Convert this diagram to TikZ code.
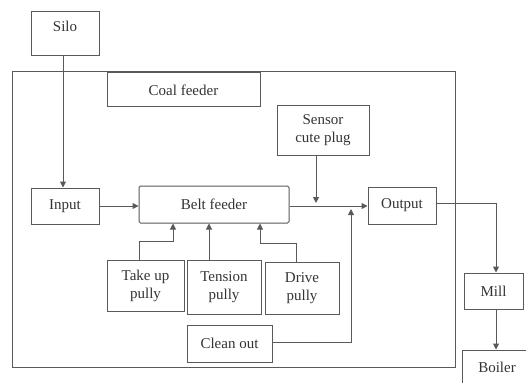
\documentclass[tikz,border=0pt]{standalone}
\usepackage{fontspec}
\setmainfont{Liberation Serif}
\usetikzlibrary{arrows.meta}
\begin{document}
\begin{tikzpicture}[x=1pt,y=-1pt,
  box/.style={draw=black!65,line width=1pt,inner sep=0pt,align=center,
    text=black!80,font=\fontsize{15}{18}\selectfont},
  arr/.style={draw=black!65,line width=1pt,-{Triangle[length=6pt,width=6pt]}},
  ln/.style={draw=black!65,line width=1pt}]
\useasboundingbox (0,0) rectangle (526,382);
\begin{scope}
\clip (0,0) rectangle (526,382);
\node[box,minimum width=443,minimum height=295] (feeder) at (233.5,219.5) {};
\node[box,minimum width=68,minimum height=44] (silo) at (65,34) {\raisebox{2pt}[0pt][0pt]{Silo}};
\node[box,minimum width=153,minimum height=34] (coal) at (183.5,90) {Coal feeder};
\node[box,minimum width=92,minimum height=49] (sensor) at (323,130.5) {Sensor\\cute plug};
\node[box,minimum width=68,minimum height=36] (input) at (65,206) {Input};
\node[box,rounded corners=1.5pt,minimum width=150,minimum height=37] (belt) at (214,204.5) {Belt feeder};
\node[box,minimum width=68,minimum height=37] (output) at (402,205.5) {Output};
\node[box,minimum width=77,minimum height=51] (takeup) at (145.5,285.5) {Take up\\pully};
\node[box,minimum width=74,minimum height=54] (tension) at (224,287) {Tension\\pully};
\node[box,minimum width=74,minimum height=52] (drive) at (302,288) {Drive\\pully};
\node[box,minimum width=85,minimum height=37] (clean) at (229.5,343.5) {Clean out};
\node[box,minimum width=59,minimum height=36] (mill) at (493.5,291) {Mill};
\node[box,minimum width=70,minimum height=50] (boiler) at (497,375) {\raisebox{3pt}[0pt][0pt]{Boiler}};
\coordinate (sensortip) at (316,203);
\coordinate (cleantip) at (351,209);
\coordinate (mainline) at (0,206);
\end{scope}
% connectors
\draw[arr] ([xshift=-2pt]silo.south) -- ([xshift=-2pt]input.north);
\draw[arr] (input.east) -- (belt.west |- input.east);
\draw[arr] (belt.east |- mainline) -- (output.west |- mainline);
\draw[arr] ([xshift=-7pt]sensor.south) -- (sensortip);
\draw[arr] (clean.east |- 0,342) -| (cleantip);
\draw[arr] ([xshift=-6.5pt]takeup.north) |- (173,241) -- (belt.south -| 173,0);
\draw[arr] ([xshift=-15pt]tension.north) -- (belt.south -| 209,0);
\draw[arr] ([xshift=-6pt]drive.north) |- (260,243) -- (belt.south -| 260,0);
\draw[arr] (output.east |- 0,203) -| (mill.north -| 496,0);
\draw[arr] (mill.south -| 496,0) -- (boiler.north -| 496,0);
\end{tikzpicture}
\end{document}
